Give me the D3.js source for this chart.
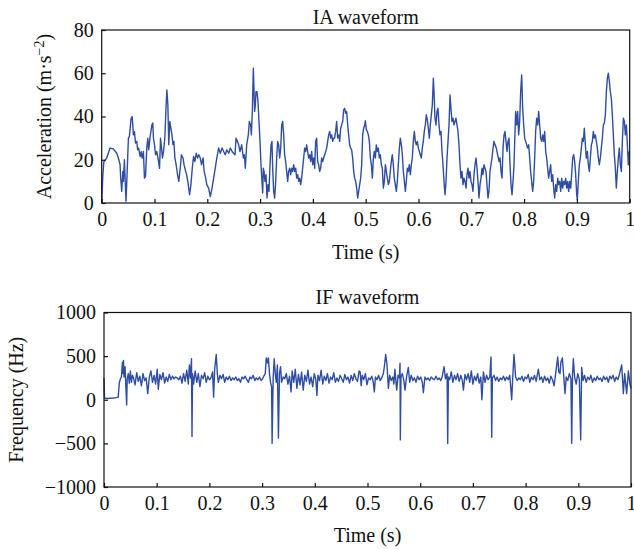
<!DOCTYPE html>
<html>
<head>
<meta charset="utf-8">
<script src="https://cdn.jsdelivr.net/npm/d3@7"></script>
<style>
  body { margin: 0; background: #fff; }
  svg text { font-family: "Liberation Serif", "DejaVu Serif", serif; fill: #111; }
</style>
</head>
<body>
<svg id="chart" width="634" height="550"></svg>
<script>
// IA waveform: [time (s), acceleration (m/s^2)]
var iaPoints = [
[0,0],[0.002,12],[0.004,19],[0.0095,20.8],[0.0158,25.4],[0.022,25],[0.0285,23],[0.0316,20.8],[0.0348,17.7],[0.036,11.5],[0.038,5.4],[0.04,14.6],[0.041,10],[0.043,20],[0.0443,11.5],[0.046,0.8],[0.0475,10],[0.0506,30],[0.0525,30.8],[0.0557,39.2],[0.0576,40],[0.0589,36],[0.06,31.5],[0.062,33],[0.064,27.7],[0.0665,28.5],[0.068,24.6],[0.07,25.4],[0.0728,21.5],[0.0747,23.8],[0.0766,20.8],[0.079,23.8],[0.081,11.5],[0.083,12.3],[0.0854,25.4],[0.0873,30],[0.089,24.6],[0.0918,30.8],[0.095,36],[0.0968,37],[0.098,30],[0.1,27],[0.102,22.3],[0.1044,23.8],[0.1076,19.2],[0.1095,16],[0.1114,30],[0.1133,25.4],[0.115,20.8],[0.117,23.8],[0.1196,30],[0.1215,42.3],[0.1234,52.3],[0.1253,45.4],[0.127,27],[0.129,37.7],[0.131,34.6],[0.133,31.5],[0.135,27],[0.1367,28.5],[0.1386,20.8],[0.141,17.7],[0.1437,13],[0.146,10],[0.1487,16],[0.151,22.3],[0.154,20.8],[0.156,17.7],[0.159,14.6],[0.161,13],[0.164,8.5],[0.1665,3.8],[0.169,8.5],[0.1715,16],[0.174,21.5],[0.1766,19.2],[0.179,23],[0.1816,20.8],[0.184,22.3],[0.1867,20.8],[0.189,17.7],[0.192,20.8],[0.194,14.6],[0.197,11.5],[0.199,8.5],[0.2025,6.9],[0.2057,3],[0.209,6.9],[0.212,11.5],[0.215,16],[0.218,20.8],[0.2215,25.4],[0.2247,23],[0.228,25.4],[0.231,23.8],[0.234,22.3],[0.237,24.6],[0.2405,23],[0.2437,25.4],[0.247,23.8],
[0.2493,23.1],[0.2525,22.3],[0.2544,30],[0.2569,28.5],[0.2594,26.9],[0.2619,23.8],[0.2651,26.9],[0.2683,20.8],[0.2701,22.3],[0.272,16.1],[0.2746,26.9],[0.2777,31.5],[0.2796,37.7],[0.2821,36.1],[0.2834,31.5],[0.2853,42.3],[0.2872,62.3],[0.2885,51.5],[0.2897,42.3],[0.291,45.4],[0.2922,51.5],[0.2941,51.5],[0.296,46.9],[0.2979,37.7],[0.2998,28.5],[0.3017,17.7],[0.3036,10],[0.3049,4.6],[0.3061,16.1],[0.3074,14.6],[0.3093,10],[0.3112,13.1],[0.3131,2.3],[0.315,8.5],[0.3169,5.4],[0.3188,17.7],[0.3207,26.9],[0.3225,28.5],[0.3238,16.1],[0.3257,5.4],[0.3276,2.3],[0.3295,10],[0.3314,20.8],[0.3333,28.5],[0.3352,26.9],[0.3371,20.8],[0.339,25.4],[0.3409,36.1],[0.3427,37.7],[0.3446,31.5],[0.3465,22.3],[0.3484,19.2],[0.3503,14.6],[0.3522,10],[0.3541,14.6],[0.356,16.1],[0.3579,13.1],[0.3598,16.1],[0.3617,14.6],[0.3636,17.7],[0.3655,14.6],[0.3674,16.1],[0.3693,11.5],[0.3712,13.1],[0.3731,10],[0.375,11.5],[0.3768,8.5],[0.3787,11.5],[0.3806,16.1],[0.3825,20.8],[0.3844,25.4],[0.3863,23.8],[0.3882,26.9],[0.3901,23.8],[0.392,20.8],[0.3939,22.3],[0.3958,19.2],[0.3977,23.8],[0.3996,17.7],[0.4015,20.8],[0.4034,16.1],[0.4052,28.5],[0.4071,30],[0.409,19.2],[0.4109,17.7],[0.4128,14.6],[0.4147,16.1],[0.4166,20.8],[0.4185,19.2],[0.4204,20.8],[0.4223,22.3],[0.4242,23.8],[0.4261,25.4],[0.428,28.5],[0.4299,31.5],[0.4318,33.1],[0.4337,30],[0.4356,31.5],[0.4374,28.5],[0.4393,30],[0.4412,30],[0.4431,33.1],[0.445,37.7],[0.4469,30],[0.4488,31.5],[0.4507,28.5],[0.4526,34.6],[0.4545,36.1],[0.4564,37.7],[0.4583,43.1],[0.4602,43.8],[0.4621,41.5],[0.464,42.3],[0.4659,36.1],[0.4677,31.5],[0.4696,26.9],[0.4715,25.4],[0.4734,24.6],[0.4753,20.8],[0.4772,14.6],[0.4791,11.5],[0.481,10],[0.4829,6.9],[0.4848,2.3],[0.4867,5.4],[0.4886,8.5],[0.4905,11.5],[0.4924,17.7],[0.4943,31.5],[0.4962,34.6],[0.4981,36.1],
[0.4993,38],[0.5012,33.8],[0.5031,33.1],[0.505,31.5],[0.5069,28.5],[0.5088,20.8],[0.5107,17.7],[0.5126,11.5],[0.5145,20.8],[0.5163,23.8],[0.5182,20.8],[0.5201,26.9],[0.522,23.8],[0.5239,25.4],[0.5258,20.8],[0.5277,22.3],[0.5296,17.7],[0.5315,16.1],[0.5334,6.9],[0.5353,10],[0.5372,17.7],[0.5391,14.6],[0.541,11.5],[0.5429,8.5],[0.5448,10],[0.5466,14.6],[0.5485,19.2],[0.5504,22.3],[0.5523,17.7],[0.5542,11.5],[0.5561,8.5],[0.558,5.4],[0.5599,10],[0.5618,17.7],[0.5637,25.4],[0.5656,30],[0.5675,26.9],[0.5694,22.3],[0.5713,14.6],[0.5732,10],[0.5751,5.4],[0.5769,10],[0.5788,16.1],[0.5807,14.6],[0.5826,17.7],[0.5845,13.1],[0.5864,17.7],[0.5883,20.8],[0.5902,28.5],[0.5921,33.1],[0.594,28.5],[0.5959,26.9],[0.5978,28.5],[0.5997,25.4],[0.6016,23.8],[0.6035,22.3],[0.6054,20.8],[0.6072,25.4],[0.6091,28.5],[0.611,33.1],[0.6129,36.1],[0.6148,40.8],[0.6167,38.5],[0.6186,34.6],[0.6205,30],[0.6224,36.1],[0.6243,40.8],[0.6262,45.4],[0.6281,57.7],[0.6294,51.5],[0.6312,39.2],[0.6331,36.1],[0.635,42.3],[0.6369,43.8],[0.6388,36.1],[0.6407,31.5],[0.6426,33.1],[0.6445,23.8],[0.6464,17.7],[0.6483,10],[0.6502,3.8],[0.6521,10],[0.654,20.8],[0.6559,28.5],[0.6578,36.1],[0.6597,50],[0.6615,43.8],[0.6634,37.7],[0.6653,39.2],[0.6672,36.1],[0.6691,37.7],[0.671,39.2],[0.6729,36.1],[0.6748,33.1],[0.6767,26.9],[0.6786,17.7],[0.6805,11.5],[0.6824,14.6],[0.6843,8.5],[0.6862,11.5],[0.6881,10],[0.69,6.9],[0.6918,13.1],[0.6937,16.1],[0.6956,11.5],[0.6975,14.6],[0.6994,10],[0.7013,8.5],[0.7032,5.4],[0.7051,13.1],[0.707,17.7],[0.7089,20.8],[0.7108,16.1],[0.7127,10],[0.7146,2.3],[0.7165,8.5],[0.7184,11.5],[0.7203,16.1],[0.7221,13.1],[0.724,17.7],[0.7259,16.1],[0.7278,14.6],[0.7297,8.5],[0.7316,2.3],[0.7335,5.4],[0.7354,14.6],[0.7373,17.7],[0.7392,20.8],[0.7411,25.4],[0.743,28.5],[0.7449,26.9],
[0.7474,25.4],[0.7499,22.3],[0.7525,19.2],[0.7544,20.8],[0.7563,14.6],[0.7582,11.5],[0.7601,25.4],[0.762,31.5],[0.7638,33.1],[0.7657,28.5],[0.7676,23.8],[0.7695,28.5],[0.7714,30],[0.7733,17.7],[0.7752,8.5],[0.7771,3.8],[0.779,10],[0.7809,17.7],[0.7828,33.1],[0.784,42.3],[0.7859,36.1],[0.7878,42.3],[0.7897,31.5],[0.7916,37.7],[0.7935,51.5],[0.7954,59.2],[0.7973,43.8],[0.7992,36.1],[0.8011,30],[0.803,28.5],[0.8049,26.9],[0.8068,25.4],[0.8087,26.9],[0.8106,20.8],[0.8124,14.6],[0.8143,10],[0.8162,5.4],[0.8181,10],[0.82,20.8],[0.8219,33.1],[0.8238,39.2],[0.8257,36.1],[0.8276,42.3],[0.8295,36.1],[0.8314,30],[0.8333,28.5],[0.8352,31.5],[0.8371,28.5],[0.839,33.1],[0.8409,23.8],[0.8428,20.8],[0.8446,16.1],[0.8465,11.5],[0.8484,14.6],[0.8503,17.7],[0.8522,10],[0.8541,13.1],[0.856,6.9],[0.8579,2.3],[0.8598,8.5],[0.8617,5.4],[0.8636,11.5],[0.8655,8.5],[0.8674,10],[0.8693,5.4],[0.8712,11.5],[0.8731,6.9],[0.875,10],[0.8768,8.5],[0.8787,11.5],[0.8806,6.9],[0.8825,10],[0.8844,5.4],[0.8863,10],[0.8882,6.9],[0.8901,13.1],[0.892,20.8],[0.8939,22.3],[0.8958,19.2],[0.8977,13.1],[0.8996,3.8],[0.9008,1.5],[0.9027,10],[0.9046,17.7],[0.9065,20.8],[0.9084,25.4],[0.9103,30],[0.9122,28.5],[0.9141,34.6],[0.916,26.9],[0.9179,20.8],[0.9198,23.8],[0.9217,17.7],[0.9236,14.6],[0.9255,20.8],[0.9274,26.9],[0.9293,28.5],[0.9311,33.1],[0.933,30],[0.9349,31.5],[0.9368,28.5],[0.9387,25.4],[0.9406,20.8],[0.9425,17.7],[0.9444,20.8],[0.9463,25.4],[0.9482,30],[0.9501,36.1],[0.952,36.9],[0.9539,40.8],[0.9558,51.5],[0.9577,57.7],[0.9596,60],[0.9615,56.1],[0.9633,51.5],[0.9652,48.4],[0.9671,40.8],[0.969,31.5],[0.9709,22.3],[0.9728,16.1],[0.9747,6.9],[0.9766,14.6],[0.9785,20.8],[0.9804,25.4],[0.9823,17.7],[0.9842,14.6],[0.9861,28.5],[0.988,39.2],[0.9899,37.7],[0.9918,31.5],[0.9937,36.1],[0.9956,26.9],[0.9974,17.7],[0.9987,23.8]
];

// IF waveform: [time (s), frequency (Hz)]
var ifPoints = [
[0,250],[0.001,20],[0.006,15],[0.012,18],[0.018,20],[0.024,24],[0.027,30],[0.029,190],[0.031,240],[0.033,260],[0.035,430],[0.036,300],[0.037,450],[0.038,260],[0.04,380],[0.041,220],[0.043,-60],[0.044,240],[0.046,300],[0.048,190],[0.05,330],[0.052,200],[0.054,280],
[0.056,250],[0.059,170],[0.062,310],[0.065,210],[0.068,270],[0.071,160],[0.074,300],[0.077,220],[0.08,250],[0.083,70],[0.086,260],[0.089,330],[0.092,200],[0.095,280],[0.098,180],[0.101,350],[0.103,120],[0.106,290],[0.109,230],[0.112,310],[0.115,190],[0.118,260],[0.121,210],[0.124,290],[0.127,230],[0.13,270],[0.133,240],[0.136,260],[0.139,250],[0.142,230],[0.145,270],[0.148,190],[0.151,300],[0.154,210],[0.157,340],[0.16,180],[0.162,400],[0.164,250],[0.166,470],[0.167,-420],[0.168,300],[0.17,180],[0.173,330],[0.176,200],[0.179,300],[0.182,150],[0.185,280],[0.188,240],[0.191,310],[0.194,200],[0.197,270],[0.2,230],[0.203,250],[0.206,320],[0.208,30],[0.21,350],[0.213,520],[0.215,300],[0.217,200],[0.22,280],[0.223,240],[0.226,290],[0.229,200],[0.232,260],[0.235,230],[0.238,270],[0.241,220],[0.244,250],[0.247,230],[0.25,260],[0.253,220],[0.256,240],[0.259,200],[0.262,260],[0.265,240],[0.268,270],[0.271,230],[0.274,200],[0.277,260],[0.28,240],[0.283,280],[0.286,220],[0.289,250],[0.292,230],[0.295,260],[0.298,220],[0.301,240],[0.304,280],[0.306,300],[0.308,480],[0.31,420],[0.312,480],[0.314,300],[0.316,200],[0.318,150],[0.319,-500],[0.321,250],[0.323,470],[0.325,300],[0.327,200],[0.329,400],[0.331,-440],[0.333,300],[0.335,380],[0.337,200],[0.34,260],[0.343,240],
[0.346,300],[0.349,180],[0.352,270],[0.355,90],[0.357,330],[0.36,200],[0.363,350],[0.366,130],[0.369,290],[0.372,170],[0.375,320],[0.378,110],[0.381,280],[0.384,210],[0.387,340],[0.39,180],[0.393,260],[0.396,150],[0.399,300],[0.402,230],[0.404,50],[0.406,280],[0.409,220],[0.412,340],[0.415,180],[0.418,270],[0.421,220],[0.424,300],[0.427,190],[0.43,260],[0.433,230],[0.436,310],[0.439,200],[0.442,250],[0.445,210],[0.448,280],[0.451,240],[0.454,200],[0.457,290],[0.46,230],[0.463,260],[0.466,190],[0.469,280],[0.472,220],[0.475,300],[0.478,240],[0.481,210],[0.484,330],[0.486,320],[0.488,160],[0.49,280],[0.493,230],[0.496,300],[0.499,170],[0.502,250],[0.505,230],[0.508,270],[0.511,200],[0.513,90],[0.515,260],[0.518,230],[0.521,280],[0.524,220],[0.527,250],[0.53,300],[0.532,380],[0.5345,520],[0.537,400],[0.5396,130],[0.542,280],[0.545,220],[0.548,260],[0.55,180],[0.552,350],[0.5554,110],[0.558,280],[0.5605,250],[0.5617,420],[0.5623,-460],[0.5635,260],[0.566,300],[0.569,220],[0.5712,110],[0.574,260],[0.5775,370],[0.58,200],[0.583,280],[0.586,220],[0.589,250],[0.592,200],[0.595,270],[0.598,230],[0.601,260],[0.604,200],[0.606,80],[0.609,260],[0.612,230],[0.615,250],[0.618,220],[0.621,260],[0.624,240],[0.627,230],[0.63,270],[0.633,230],[0.636,250],[0.639,220],[0.642,270],[0.6452,380],[0.648,240],[0.651,300],[0.6522,-500],[0.6535,260],[0.656,230],[0.659,320],[0.662,200],[0.665,280],[0.668,230],[0.671,300],[0.674,210],[0.677,280],[0.68,220],[0.682,110],[0.685,290],[0.688,230],[0.691,300],[0.694,200],[0.697,330],[0.7,180],[0.703,270],[0.706,220],[0.709,300],[0.712,190],[0.715,260],[0.717,0],[0.72,320],[0.723,200],[0.726,280],[0.729,230],[0.732,260],[0.7344,490],[0.7357,-430],[0.737,250],[0.74,280],[0.743,220],[0.746,260],[0.749,210],[0.752,250],[0.755,230],[0.758,270],[0.761,220],[0.764,260],[0.767,230],[0.77,280],[0.7736,0],[0.776,300],[0.778,520],[0.781,260],[0.784,220],[0.787,250],[0.79,230],[0.793,270],[0.796,210],[0.799,260],[0.802,240],[0.805,290],[0.808,200],[0.811,260],[0.814,230],[0.817,280],[0.82,210],[0.8242,350],[0.827,230],[0.83,260],[0.833,200],[0.836,270],[0.839,220],[0.842,250],[0.845,190],[0.848,270],[0.851,230],[0.854,160],[0.857,300],[0.8609,490],[0.863,320],[0.8653,300],[0.867,430],[0.8697,480],[0.872,300],[0.8748,70],[0.877,260],[0.88,220],[0.883,300],[0.886,240],[0.8875,-500],[0.889,280],[0.8906,470],[0.893,260],[0.896,180],[0.899,300],[0.902,230],[0.9045,-460],[0.9064,370],[0.909,220],[0.912,280],[0.915,200],[0.918,260],[0.921,230],[0.924,280],[0.927,200],[0.93,250],[0.933,220],[0.936,270],[0.939,230],[0.942,250],[0.945,210],[0.948,270],[0.951,230],[0.954,260],[0.957,200],[0.96,270],[0.963,240],[0.966,280],[0.969,210],[0.972,260],[0.975,230],[0.978,290],[0.9823,400],[0.9855,70],[0.988,300],[0.9918,70],[0.995,330],[0.998,180],[1,130]
];

var timeTicks = [0, 0.1, 0.2, 0.3, 0.4, 0.5, 0.6, 0.7, 0.8, 0.9, 1];
var iaTicks = [0, 20, 40, 60, 80];
var ifTicks = [-1000, -500, 0, 500, 1000];

var line_color = "#2f4ea3";
var font_size = 20;
var svg = d3.select("#chart");

var panels = [
  { data: iaPoints, title: "IA waveform", ylabel: "ia", yDomain: [0, 80], yTicks: iaTicks,
    left: 101.7, right: 629.7, top: 30, bottom: 203, ylabelX: 44, titleY: 17, xlabelY: 252 },
  { data: ifPoints, title: "IF waveform", ylabel: "Frequency (Hz)", yDomain: [-1000, 1000], yTicks: ifTicks,
    left: 104, right: 631, top: 312.5, bottom: 487, ylabelX: 16, titleY: 297, xlabelY: 535 }
];

panels.forEach(draw_panel);

function draw_panel(p) {
  var x = d3.scaleLinear().domain([0, 1]).range([p.left, p.right]);
  var y = d3.scaleLinear().domain(p.yDomain).range([p.bottom, p.top]);
  var g = svg.append("g");

  var line = d3.line()
    .x(function(d) { return x(d[0]); })
    .y(function(d) { return y(d[1]); });

  g.append("path")
    .datum(p.data)
    .attr("fill", "none")
    .attr("stroke", line_color)
    .attr("stroke-width", 1.4)
    .attr("stroke-linejoin", "round")
    .attr("d", line);

  var xAxis = g.append("g")
    .attr("transform", "translate(0," + p.bottom + ")")
    .call(d3.axisBottom(x).tickValues(timeTicks).tickFormat(d3.format("~g"))
      .tickSizeInner(-4).tickSizeOuter(0).tickPadding(9));

  var yAxis = g.append("g")
    .attr("transform", "translate(" + p.left + ",0)")
    .call(d3.axisLeft(y).tickValues(p.yTicks).tickFormat(function(d) { return d < 0 ? "\u2212" + Math.abs(d) : d; })
      .tickSizeInner(-4).tickSizeOuter(0).tickPadding(8));

  [xAxis, yAxis].forEach(function(a) {
    a.select(".domain").remove();
    a.selectAll(".tick line").attr("stroke", "#111").attr("stroke-width", 1.2);
    a.selectAll(".tick text").style("font-family", "Liberation Serif").style("font-size", font_size + "px").attr("fill", "#111");
  });

  g.append("rect")
    .attr("x", p.left).attr("y", p.top)
    .attr("width", p.right - p.left).attr("height", p.bottom - p.top)
    .attr("fill", "none").attr("stroke", "#111").attr("stroke-width", 1.2);

  g.append("text")
    .attr("x", (p.left + p.right) / 2).attr("y", p.titleY)
    .attr("text-anchor", "middle").attr("dy", "0.35em")
    .style("font-size", font_size + "px")
    .text(p.title);

  g.append("text")
    .attr("x", (p.left + p.right) / 2).attr("y", p.xlabelY)
    .attr("text-anchor", "middle").attr("dy", "0.35em")
    .style("font-size", font_size + "px")
    .text("Time (s)");

  var yl = g.append("text")
    .attr("transform", "translate(" + p.ylabelX + "," + ((p.top + p.bottom) / 2) + ") rotate(-90)")
    .attr("text-anchor", "middle").attr("dy", "0.35em")
    .style("font-size", font_size + "px");

  if (p.ylabel == "ia") {
    yl.append("tspan").text("Acceleration (m\u00b7s");
    yl.append("tspan").attr("baseline-shift", "super").style("font-size", "14px").text("\u22122");
    yl.append("tspan").text(")");
  } else {
    yl.text(p.ylabel);
  }
}
</script>
</body>
</html>
